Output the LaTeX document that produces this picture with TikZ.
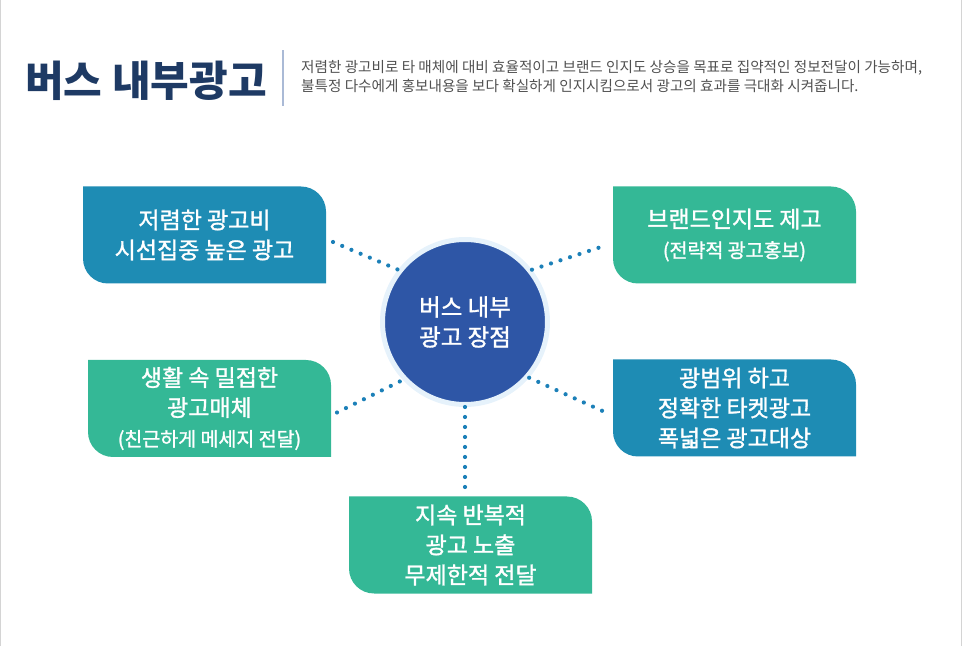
\documentclass[tikz,border=0pt]{standalone}
\usepackage{fontspec}
\newfontfamily\kr{Noto Sans CJK KR}
\newfontfamily\krm[FakeBold=1.3]{Noto Sans CJK KR}
\usepackage{xcolor}
\usetikzlibrary{positioning,backgrounds,calc}

\definecolor{adblue}{RGB}{30,140,180}
\definecolor{adgreen}{RGB}{52,184,150}
\definecolor{hubblue}{RGB}{46,86,166}
\definecolor{halo}{RGB}{230,242,251}
\definecolor{titlenavy}{RGB}{30,58,100}
\definecolor{dotblue}{RGB}{28,128,184}
\definecolor{sepline}{RGB}{170,186,214}
\definecolor{desctext}{RGB}{80,80,80}
\definecolor{frame}{RGB}{212,212,212}

% box with two rounded corners (top right, bottom left)
\newcommand{\tagshape}[2]{%
  \fill[#2] (#1.north west) -- ([xshift=-25pt]#1.north east)
    arc[start angle=90,end angle=0,radius=25pt] -- (#1.south east)
    -- ([xshift=25pt]#1.south west)
    arc[start angle=270,end angle=180,radius=25pt] -- cycle;}
\newcommand{\subline}{\krm\fontsize{19.5}{30}\selectfont}

\begin{document}
\begin{tikzpicture}[x=1pt, y=1pt,
  tagbox/.style={minimum width=243pt, minimum height=97pt, inner sep=0pt, outer sep=0pt, align=center, text=white, font=\krm\fontsize{23}{30}\selectfont},
  hub/.style={circle, fill=hubblue, draw=halo, line width=5pt, minimum size=165pt, align=center, text=white, font=\krm\fontsize{23.5}{30}\selectfont},
  dotline/.style={dotblue, line width=4.2pt, line cap=round, dash pattern=on 0pt off 10pt},
]
\useasboundingbox (0,0) rectangle (962,646);
\draw[frame, line width=1.5pt] (0.7,0) -- (0.7,646);
\draw[frame, line width=1.5pt] (961.3,0) -- (961.3,646);

% header
\node[anchor=west, inner sep=0pt, text=titlenavy, font=\kr\bfseries\fontsize{42}{44}\selectfont] (title) at (25,565) {버스 내부광고};
\draw[sepline, line width=1.3pt] (283,540) -- (283,596);
\node[anchor=west, inner sep=0pt, align=left, text=desctext, font=\kr\fontsize{14.6}{19}\selectfont] (desc) at (301,569) {저렴한 광고비로 타 매체에 대비 효율적이고 브랜드 인지도 상승을 목표로 집약적인 정보전달이 가능하며,\\불특정 다수에게 홍보내용을 보다 확실하게 인지시킴으로서 광고의 효과를 극대화 시켜줍니다.};

% centre and boxes
\node[hub] (hub) at (465,324) {버스 내부\\광고 장점};
\node[tagbox] (cheap) at (204.5,411) {저렴한 광고비\\시선집중 높은 광고};
\node[tagbox] (brand) at (734.5,411) {브랜드인지도 제고\\{\subline(전략적 광고홍보)}};
\node[tagbox] (close) at (209.5,237.5) {생활 속 밀접한\\광고매체\\{\subline(친근하게 메세지 전달)}};
\node[tagbox] (wide) at (734.5,238) {광범위 하고\\정확한 타켓광고\\폭넓은 광고대상};
\node[tagbox] (repeat) at (470.5,101) {지속 반복적\\광고 노출\\무제한적 전달};

\begin{scope}[on background layer]
  \tagshape{cheap}{adblue}
  \tagshape{brand}{adgreen}
  \tagshape{close}{adgreen}
  \tagshape{wide}{adblue}
  \tagshape{repeat}{adgreen}
\end{scope}

\draw[dotline] ([xshift=7pt,yshift=-7pt]cheap.east) -- (hub.142);
\draw[dotline] (hub.38) -- ([xshift=-6pt,yshift=-10pt]brand.west);
\draw[dotline] ([xshift=6pt,yshift=-4pt]close.east) -- (hub.223);
\draw[dotline] (hub.319) -- ([xshift=-6pt,yshift=-5pt]wide.west);
\draw[dotline] (hub.south) -- ([yshift=6pt]hub.south |- repeat.north);
\end{tikzpicture}
\end{document}
